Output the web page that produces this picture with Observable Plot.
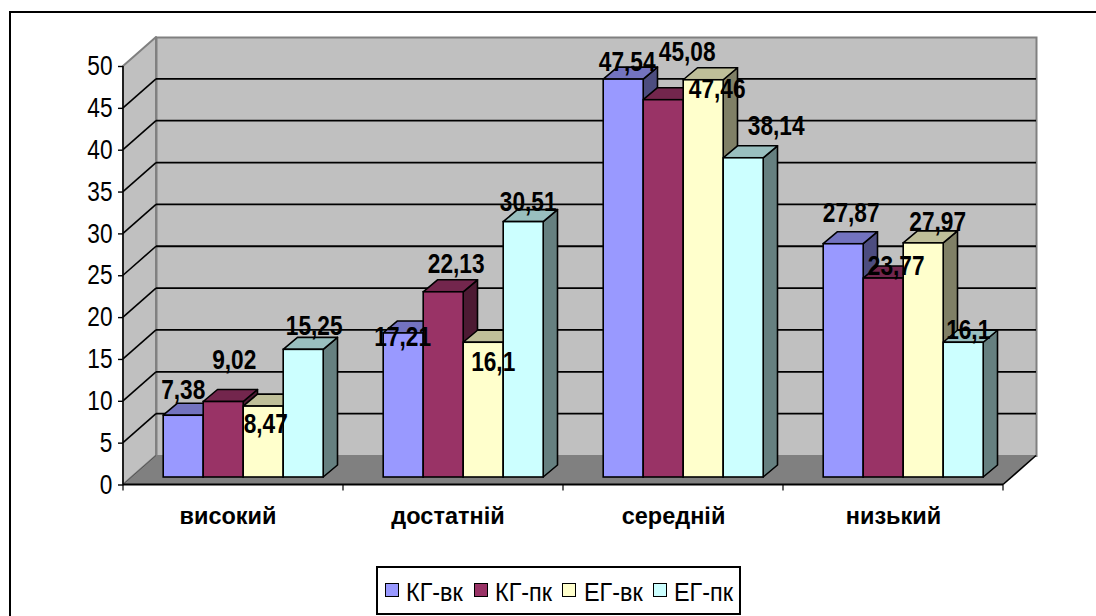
<!DOCTYPE html>
<html><head><meta charset="utf-8">
<script src="https://cdn.jsdelivr.net/npm/d3@7"></script>
<script src="https://cdn.jsdelivr.net/npm/@observablehq/plot@0.6"></script>
<style>
html,body{margin:0;padding:0;background:#fff;overflow:hidden;width:1096px;height:616px}
#frame{position:absolute;left:9px;top:11px;width:2000px;height:2000px;border:2px solid #000;box-sizing:border-box}
#chart{position:absolute;left:0;top:0}
#legend{position:absolute;left:376px;top:566px;width:365px;height:49px;border:2px solid #000;box-sizing:border-box;background:#fff;font-family:"Liberation Sans",sans-serif;font-size:26px;color:#000}
#legend .sw{position:absolute;top:15px;width:14px;height:14px;border:1.5px solid #000;box-sizing:border-box}
#legend .tx{position:absolute;top:10px;line-height:28px;white-space:nowrap;transform:scaleX(.9);transform-origin:left center}
</style></head><body>
<div id="frame"></div>
<div id="chart"></div>
<div id="legend"></div>
<script>
const categories = ["високий", "достатній", "середній", "низький"];
const series = ["КГ-вк", "КГ-пк", "ЕГ-вк", "ЕГ-пк"];
const kgVk = [7.38, 17.21, 47.54, 27.87];
const kgPk = [9.02, 22.13, 45.08, 23.77];
const egVk = [8.47, 16.1, 47.46, 27.97];
const egPk = [15.25, 30.51, 38.14, 16.1];
const valueLabels = [
  ["7,38", "17,21", "47,54", "27,87"],
  ["9,02", "22,13", "45,08", "23,77"],
  ["8,47", "16,1", "47,46", "27,97"],
  ["15,25", "30,51", "38,14", "16,1"]
];
const yTicks = [0, 5, 10, 15, 20, 25, 30, 35, 40, 45, 50];
const colors = ["#9999ff", "#993366", "#ffffcc", "#ccffff"];

// hand placement of the labels relative to each bar top: [series][category]
const labelNudges = [
  [[-0.5, -25], [-1, 4], [3.5, -17], [7.5, -31]],
  [[10.5, -41.5], [12.5, -28], [23.5, -48], [12.5, -12]],
  [[2, 18], [9.5, 20], [13.5, 9], [14, -21]],
  [[10.5, -23], [4.5, -20], [32.5, -32], [4.5, -12]]
];

const columns = [kgVk, kgPk, egVk, egPk];
const rows = series.flatMap((s, si) => categories.map((c, ci) => ({
  category: c, series: s, value: columns[si][ci], label: valueLabels[si][ci], nudge: labelNudges[si][ci]
})));

const WALL = [33, -29], BAR = [10.2, -7.5], DEPTH = [14.3, -12];
const font = '"Liberation Sans",sans-serif';
const shade = (c, k) => { const r = d3.rgb(c); return d3.rgb(r.r * k, r.g * k, r.b * k).formatHex(); };
const pts = a => a.map(p => p.join(",")).join(" ");

function poly(g, points, fill, stroke, sw) {
  g.append("polygon").attr("points", pts(points)).attr("fill", fill)
    .attr("stroke", stroke).attr("stroke-width", sw).attr("stroke-linejoin", "round");
}

// left wall and floor, from the plot's y scale and frame
function shell(index, scales, values, dim) {
  const g = d3.create("svg:g");
  const l = dim.marginLeft, r = dim.width - dim.marginRight;
  const y0 = scales.y(0), y50 = scales.y(50);
  const [wx, wy] = WALL;
  poly(g, [[l, y0], [l + wx, y0 + wy], [l + wx, y50 + wy], [l, y50]], "#c0c0c0", "#808080", 2);
  for (const t of yTicks.slice(1, -1)) {
    const y = scales.y(t);
    g.append("line").attr("x1", l + wx).attr("y1", y + wy).attr("x2", r + wx).attr("y2", y + wy).attr("stroke", "#000").attr("stroke-width", 1.8);
    g.append("line").attr("x1", l).attr("y1", y).attr("x2", l + wx).attr("y2", y + wy).attr("stroke", "#000").attr("stroke-width", 1.6);
  }
  poly(g, [[l, y0], [r, y0], [r + wx, y0 + wy], [l + wx, y0 + wy]], "#808080", "none", 0);
  g.append("line").attr("x1", r).attr("y1", y0).attr("x2", r + wx).attr("y2", y0 + wy).attr("stroke", "#000").attr("stroke-width", 1.6);
  g.append("line").attr("x1", l).attr("y1", y0).attr("x2", l + wx).attr("y2", y0 + wy).attr("stroke", "#555").attr("stroke-width", 1);
  return g.node();
}

// category tick marks and the axis baseline
function xAxisLine(index, scales, values, dim) {
  const g = d3.create("svg:g");
  const l = dim.marginLeft, r = dim.width - dim.marginRight, y0 = scales.y(0);
  const step = scales.fx.bandwidth();
  const edges = categories.map(c => scales.fx(c)).concat(scales.fx(categories[3]) + step);
  g.append("line").attr("x1", l).attr("x2", r).attr("y1", y0).attr("y2", y0).attr("stroke", "#000").attr("stroke-width", 2);
  g.append("line").attr("x1", l).attr("x2", l).attr("y1", scales.y(50)).attr("y2", y0).attr("stroke", "#000").attr("stroke-width", 1.5);
  for (const e of edges) g.append("line").attr("x1", e).attr("x2", e).attr("y1", y0).attr("y2", y0 + 6).attr("stroke", "#000").attr("stroke-width", 1.2);
  return g.node();
}

// top and side faces of each bar
function faces(index, scales, values) {
  const g = d3.create("svg:g");
  const w = scales.x.bandwidth();
  const [bx, by] = BAR, [px, py] = DEPTH;
  for (const i of index) {
    const xl = values.x[i] + bx, xr = xl + w;
    const yb = scales.y(0) + by, yt = Math.min(values.y1[i], values.y2[i]) + by;
    const c = values.fill ? values.fill[i] : "#999";
    poly(g, [[xr, yt], [xr + px, yt + py], [xr + px, yb + py], [xr, yb]], shade(c, 0.5), "#000", 1.6);
    poly(g, [[xl, yt], [xl + px, yt + py], [xr + px, yt + py], [xr, yt]], shade(c, 0.75), "#000", 1.6);
  }
  return g.node();
}

const barChannels = { fx: "category", x: "series", y: "value", fill: "series" };
const catAxis = { anchor: "bottom", tickSize: 0, tickPadding: 22, fontSize: 23.5, fontWeight: "bold", fill: "#000", label: null, fontFamily: font };

const plot = Plot.plot({
  width: 1096, height: 560,
  marginLeft: 122, marginRight: 93, marginTop: 66, marginBottom: 75.5,
  style: { background: "transparent", fontFamily: font, overflow: "visible" },
  fx: { domain: categories, padding: 0, label: null },
  x: { domain: series, paddingInner: 0, paddingOuter: 0.735, axis: null, label: null },
  y: { domain: [0, 50], label: null },
  color: { domain: series, range: colors },
  marks: [
    Plot.frame({ facet: "super", fill: "#c0c0c0", stroke: "#808080", strokeWidth: 2, dx: WALL[0], dy: WALL[1] }),
    Plot.frame({ facet: "super", render: shell }),
    Plot.barY(rows, { ...barChannels, render: faces }),
    Plot.barY(rows, { ...barChannels, stroke: "#000", strokeWidth: 1.6, dx: BAR[0], dy: BAR[1] }),
    Plot.frame({ facet: "super", render: xAxisLine }),
    Plot.axisY({ ticks: yTicks, tickSize: 5, tickPadding: 6, fontSize: 27, stroke: "#000", strokeWidth: 1.4, fill: "#000", label: null, fontFamily: font }),
    Plot.axisFx({ ...catAxis, ticks: categories.slice(0, 2), dx: -5.5 }),
    Plot.axisFx({ ...catAxis, ticks: categories.slice(2), dx: 0 }),
    ...rows.map(r => Plot.text([r], {
      fx: "category", x: "series", y: "value", text: "label", fill: "#000",
      fontSize: 27, fontWeight: "bold", fontFamily: font,
      dx: BAR[0] + r.nudge[0], dy: BAR[1] + r.nudge[1]
    }))
  ]
});
document.getElementById("chart").append(plot);

// the reference uses tall, narrow numerals: condense those texts
plot.querySelectorAll("text").forEach(t => {
  if (t.closest("[font-size='27']")) {
    t.setAttribute("textLength", t.getComputedTextLength() * 0.84);
    t.setAttribute("lengthAdjust", "spacingAndGlyphs");
  }
});

const legend = d3.select("#legend");
const swatchLeft = [7, 96, 184, 275], textLeft = [28, 117, 206, 296];
series.forEach((s, i) => {
  legend.append("div").attr("class", "sw").style("left", swatchLeft[i] + "px").style("background", colors[i]);
  legend.append("div").attr("class", "tx").style("left", textLeft[i] + "px").text(s);
});
</script>
</body></html>
